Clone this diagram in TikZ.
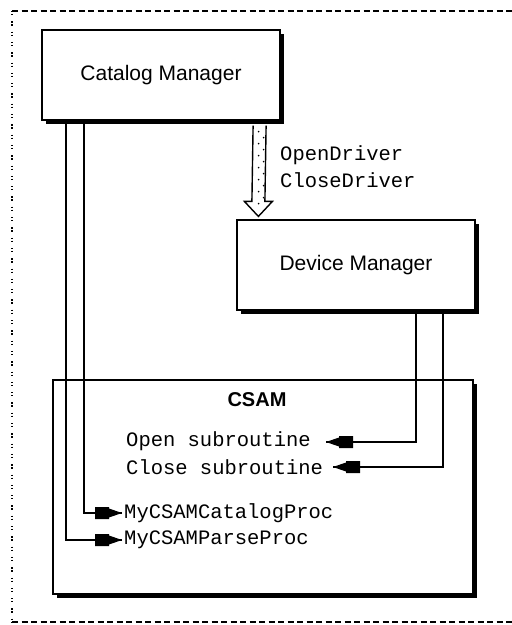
\documentclass[tikz,border=0pt]{standalone}
\usepackage{fontspec}
\setmainfont{Liberation Sans}
\newfontfamily\codefont{Liberation Mono}
\usetikzlibrary{shadows,calc}

\tikzset{
  mgrbox/.style={draw, line width=1.2pt, fill=white, inner sep=0pt,
    minimum width=238pt, minimum height=90pt,
    font=\fontsize{21}{24}\selectfont,
    drop shadow={shadow xshift=3.5pt, shadow yshift=-4pt, opacity=1, fill=black}},
  modbox/.style={draw, line width=1.2pt, fill=white, inner sep=0pt,
    minimum width=420pt, minimum height=214pt,
    drop shadow={shadow xshift=4pt, shadow yshift=-4pt, opacity=1, fill=black}},
  code/.style={font=\codefont\fontsize{20.5}{24}\selectfont, inner sep=0pt},
  wire/.style={line width=1.4pt},
  % plug-shaped arrowhead, tip at the origin, pointing towards -x
  plughead/.pic={
    \fill (0,0) -- (13,-4.5) -- (13,-6) -- (27,-6) -- (27,6) -- (13,6) -- (13,4.5) -- cycle;
  },
  hollow/.style={line width=1.4pt, fill=white, line join=miter},
  framedash/.style={line width=1.6pt, dash pattern=on 6pt off 3.5pt},
  framedot/.style={line width=1.6pt, dash pattern=on 1.3pt off 1.7pt on 1.3pt off 6pt},
}

\begin{document}
\begin{tikzpicture}[x=1pt, y=-1pt]
\useasboundingbox (0,0) rectangle (512,625);
\clip (0,0) rectangle (512,625);

% surrounding frame, open on the right
\draw[framedash] (12,11) -- (530,11);
\draw[framedash] (12,622) -- (530,622);
\draw[framedot] (12,11) -- (12,622);

% main blocks
\node[modbox] (csam) at (263,487) {};
\node[font=\bfseries\fontsize{20}{24}\selectfont, inner sep=0pt] (csamlabel) at (257,400) {CSAM};

% entry-point labels inside the module
\node[code, anchor=west] (opensub)   at (126,441) {Open subroutine};
\node[code, anchor=west] (closesub)  at (126,467) {Close subroutine};
\node[code, anchor=west, inner sep=2pt] (catproc)   at (122,513) {MyCSAMCatalogProc};
\node[code, anchor=west, inner sep=2pt] (parseproc) at (122,540) {MyCSAMParseProc};

% call lines from the Catalog Manager (drawn first so the box hides their tops)
\coordinate (catL1) at (66,100);
\coordinate (catL2) at (84,100);
\draw[wire] (catL1) |- (parseproc.west);
\draw[wire] (catL2) |- (catproc.west);
\path (parseproc.west) pic[rotate=180] {plughead};
\path (catproc.west) pic[rotate=180] {plughead};

% call lines from the Device Manager
\coordinate (devL1) at (416,290);
\coordinate (devL2) at (443,290);
\coordinate (openTip) at (326,442);
\coordinate (closeTip) at (333,467);
\draw[wire] (devL1) |- (openTip);
\draw[wire] (devL2) |- (closeTip);
\path (openTip) pic {plughead};
\path (closeTip) pic {plughead};

\node[mgrbox] (cat) at (161,75) {Catalog Manager};
\node[mgrbox] (dev) at (356,265) {Device Manager};

% hollow dotted arrow from Catalog Manager to Device Manager
\path (cat.south east) ++(-21,5) coordinate (dtop);
\path (dev.north west) ++(22,-3) coordinate (dtip);
\draw[hollow]
  ($(dtop)+(-6.5,0)$) -- ($(dtip)+(-6.5,-15)$) -- ($(dtip)+(-14,-15)$) -- (dtip)
  -- ($(dtip)+(14,-15)$) -- ($(dtip)+(6.5,-15)$) -- ($(dtop)+(6.5,0)$);
\foreach \k in {0,...,6} {
  \fill ($(dtop)+(-1,6+12*\k)$) circle (0.9pt);
}
\foreach \k in {0,...,5} {
  \fill ($(dtop)+(4,12+12*\k)$) circle (0.9pt);
}

\node[code, anchor=west] (opendrv)  at (280,155) {OpenDriver};
\node[code, anchor=west] (closedrv) at (280,180) {CloseDriver};
\end{tikzpicture}
\end{document}
